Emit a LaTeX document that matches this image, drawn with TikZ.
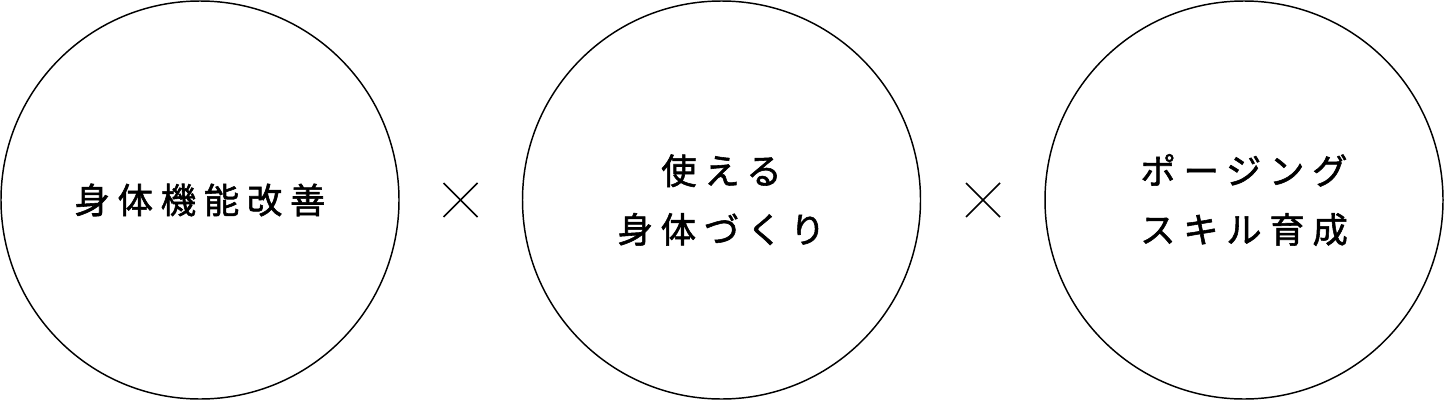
\documentclass[tikz,border=0pt]{standalone}
\usepackage{fontspec}
\newfontfamily\cjk[LetterSpace=22,FakeBold=1.6]{Noto Sans CJK JP}
\begin{document}
\begin{tikzpicture}[x=0.75pt,y=-0.75pt]
\tikzset{
  ring/.style={draw=black,line width=1.1pt},
  lbl/.style={font=\cjk\fontsize{26.5pt}{44pt}\selectfont,align=center,inner sep=0pt},
  times/.style={draw=black,line width=1.1pt}
}
\useasboundingbox (0,0) rectangle (1444,400);
\node[ring,circle,minimum size=398*0.75pt,inner sep=0pt] (c1) at (200,200) {};
\node[ring,circle,minimum size=398*0.75pt,inner sep=0pt] (c2) at (721.5,200) {};
\node[ring,circle,minimum size=398*0.75pt,inner sep=0pt] (c3) at (1244,200) {};
\node[lbl] (t1) at (c1) {身体機能改善};
\node[lbl] (t2) at (c2) {使える\\身体づくり};
\node[lbl] (t3) at (c3) {ポージング\\スキル育成};
\coordinate (x1) at (460.5,200);
\coordinate (x2) at (983,200);
\draw[times] ([shift={(-17,-17)}]x1) -- ([shift={(17,17)}]x1);
\draw[times] ([shift={(-17,17)}]x1) -- ([shift={(17,-17)}]x1);
\draw[times] ([shift={(-17,-17)}]x2) -- ([shift={(17,17)}]x2);
\draw[times] ([shift={(-17,17)}]x2) -- ([shift={(17,-17)}]x2);
\end{tikzpicture}
\end{document}
